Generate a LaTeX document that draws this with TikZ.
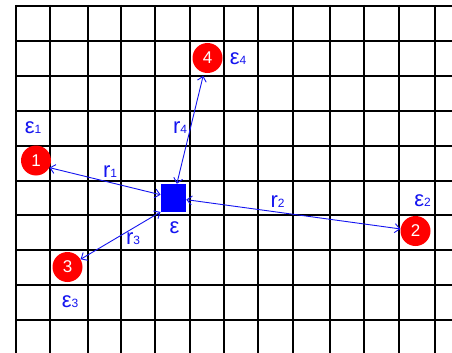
\documentclass[tikz,border=0pt]{standalone}
\usepackage{fontspec}
\setmainfont{Liberation Sans}
\usetikzlibrary{arrows.meta}
\definecolor{lblue}{RGB}{20,20,240}
\newcommand\lsub[1]{{\fontsize{12}{12}\selectfont #1}}
\tikzset{
  gridline/.style={line width=2.1pt, black},
  gridthin/.style={line width=1.4pt, black},
  ball/.style={circle, fill=red, minimum size=30pt, inner sep=0pt, text=white, font=\fontsize{17}{17}\selectfont},
  lbl/.style={text=lblue, inner sep=0pt, font=\fontsize{22}{22}\selectfont},
  arr/.style={draw=lblue, line width=0.9pt, {Straight Barb[length=5pt,width=9pt]}-{Straight Barb[length=5pt,width=9pt]}},
  sqbox/.style={rectangle, fill=blue, minimum width=25.3pt, minimum height=27.7pt, inner sep=0pt}
}
\begin{document}
\begin{tikzpicture}[x=1pt,y=-1pt]
\useasboundingbox (0,0) rectangle (452,353);
\fill[white] (0,0) rectangle (452,353);
% grid
\foreach \xx in {16,50,88,155,224,258,293,330,399,435}
  \draw[gridline] (\xx,5) -- (\xx,353);
\foreach \xx in {121,190,364}
  \draw[gridthin] (\xx,5) -- (\xx,353);
\foreach \yy in {6,41,76,111,146,181,250,285}
  \draw[gridline] (16,\yy) -- (452,\yy);
\foreach \yy in {215,320}
  \draw[gridthin] (16,\yy) -- (452,\yy);
% nodes
\node[sqbox] (sq) at (173.4,197.9) {};
\node[ball] (c1) at (36,160.5) {1};
\node[ball] (c2) at (415.5,231) {2};
\node[ball] (c3) at (67.5,267) {3};
\node[ball] (c4) at (207.5,58) {4};
% labels
\node[lbl] (e1) at (33,128) {ε\lsub{1}};
\node[lbl] (e2) at (422.5,201) {ε\lsub{2}};
\node[lbl] (e3) at (70,302) {ε\lsub{3}};
\node[lbl] (e4) at (238,59) {ε\lsub{4}};
\node[lbl] (e0) at (174.5,228) {ε};
\node[lbl] (r1) at (110,172) {r\lsub{1}};
\node[lbl] (r2) at (277.5,202) {r\lsub{2}};
\node[lbl] (r3) at (133,239) {r\lsub{3}};
\node[lbl] (r4) at (180,128) {r\lsub{4}};
% connectors
\draw[arr] (c1.-28) -- (sq);
\draw[arr, shorten <=3pt] (c4) -- (sq);
\draw[arr] (sq) -- (c2);
\draw[arr] (sq.south west) -- (c3);
\end{tikzpicture}
\end{document}
